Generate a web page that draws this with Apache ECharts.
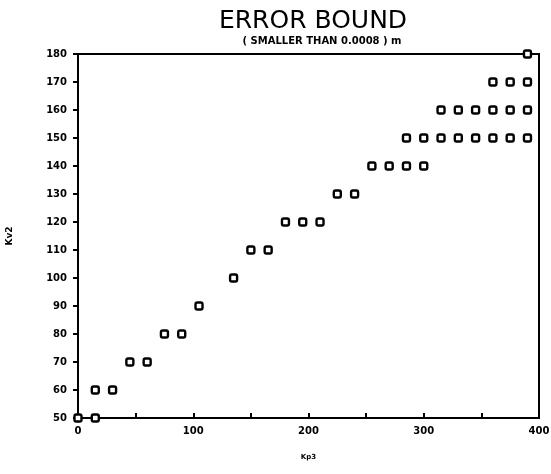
<!DOCTYPE html>
<html>
<head>
<meta charset="utf-8">
<script src="https://cdn.jsdelivr.net/npm/echarts@6/dist/echarts.min.js"></script>
<style>
  html, body { margin: 0; padding: 0; background: #fff; }
  #chart { width: 551px; height: 474px; }
</style>
</head>
<body>
<div id="chart"></div>
<script>
  // Kp3 / Kv2 pairs, one row per Kv2 level
  var kp3 = [0, 15, 15, 30, 45, 60, 75, 90, 105, 135, 150, 165, 180, 195, 210, 225, 240,
    255, 270, 285, 300, 285, 300, 315, 330, 345, 360, 375, 390,
    315, 330, 345, 360, 375, 390, 360, 375, 390, 390];
  var kv2 = [50, 50, 60, 60, 70, 70, 80, 80, 90, 100, 110, 110, 120, 120, 120, 130, 130,
    140, 140, 140, 140, 150, 150, 150, 150, 150, 150, 150, 150,
    160, 160, 160, 160, 160, 160, 170, 170, 170, 180];

  var points = kp3.map(function (x, i) { return [x, kv2[i]]; });

  var chart = echarts.init(document.getElementById('chart'), null, { renderer: 'canvas' });
  var axisFont = { color: '#000', fontFamily: 'DejaVu Sans', fontWeight: 'bold', fontSize: 10 };

  chart.setOption({
    backgroundColor: '#fff',
    animation: false,
    title: [{
      text: 'ERROR BOUND',
      left: 308,
      top: 4,
      textAlign: 'center',
      textStyle: { color: '#000', fontFamily: 'DejaVu Sans', fontWeight: 'normal', fontSize: 25 }
    }, {
      text: '( SMALLER THAN 0.0008 ) m',
      left: 317,
      top: 31,
      textAlign: 'center',
      textStyle: { color: '#000', fontFamily: 'DejaVu Sans', fontWeight: 'bold', fontSize: 10 }
    }],
    grid: {
      left: 78, right: 12, top: 54, bottom: 56,
      containLabel: false,
      outerBoundsMode: 'none',
      show: true, borderColor: '#000', borderWidth: 2
    },
    xAxis: {
      type: 'value',
      min: 0, max: 400, interval: 100,
      name: 'Kp3',
      nameLocation: 'middle',
      nameGap: 36,
      nameTextStyle: { color: '#000', fontFamily: 'DejaVu Sans', fontWeight: 'bold', fontSize: 7 },
      axisLine: { lineStyle: { color: '#000', width: 2 } },
      axisTick: { inside: true, length: 5, lineStyle: { color: '#000', width: 2 } },
      minorTick: { show: true, splitNumber: 2, length: 5, lineStyle: { color: '#000', width: 2 } },
      axisLabel: Object.assign({ margin: 8, fontSize: 11 }, axisFont),
      splitLine: { show: false }
    },
    yAxis: {
      type: 'value',
      min: 50, max: 180, interval: 10,
      name: 'Kv2',
      nameLocation: 'middle',
      nameGap: 64,
      nameRotate: 90,
      nameTextStyle: { color: '#000', fontFamily: 'DejaVu Sans', fontWeight: 'bold', fontSize: 9 },
      axisLine: { lineStyle: { color: '#000', width: 2 } },
      axisTick: { length: 5, lineStyle: { color: '#000', width: 2 } },
      axisLabel: Object.assign({ margin: 11 }, axisFont),
      splitLine: { show: false }
    },
    series: [{
      type: 'scatter',
      symbol: 'roundRect',
      symbolSize: 7,
      itemStyle: { color: '#fff', borderColor: '#000', borderWidth: 2.4, opacity: 1 },
      data: points
    }]
  });
</script>
</body>
</html>
